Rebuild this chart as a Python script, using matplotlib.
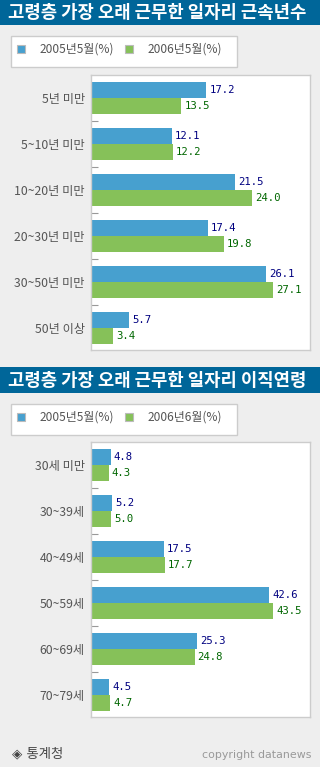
import numpy as np
import matplotlib
matplotlib.use("Agg")
import matplotlib.pyplot as plt
from matplotlib.patches import Rectangle

plt.rcParams['font.family'] = ['Noto Sans CJK KR', 'DejaVu Sans']

# data
title1 = "고령층 가장 오래 근무한 일자리 근속년수"
cats1 = ["5년 미만", "5~10년 미만", "10~20년 미만", "20~30년 미만", "30~50년 미만", "50년 이상"]
y2005_1 = [17.2, 12.1, 21.5, 17.4, 26.1, 5.7]
y2006_1 = [13.5, 12.2, 24.0, 19.8, 27.1, 3.4]
legend1 = ["2005년5월(%)", "2006년5월(%)"]

title2 = "고령층 가장 오래 근무한 일자리 이직연령"
cats2 = ["30세 미만", "30~39세", "40~49세", "50~59세", "60~69세", "70~79세"]
y2005_2 = [4.8, 5.2, 17.5, 42.6, 25.3, 4.5]
y2006_2 = [4.3, 5.0, 17.7, 43.5, 24.8, 4.7]
legend2 = ["2005년5월(%)", "2006년6월(%)"]

W, H = 320, 767
BLUE = "#47a0cf"
GREEN = "#86c159"
BAND = "#006699"
BG = "#eeeeee"

fig = plt.figure(figsize=(W / 100, H / 100), dpi=100, facecolor=BG)

# background axes in pixel coords for title bands, legends, footer
bg = fig.add_axes([0, 0, 1, 1], zorder=0)
bg.set_xlim(0, W)
bg.set_ylim(H, 0)
bg.axis("off")


def rect(x0, y0, x1, y1):
    return [x0 / W, 1 - y1 / H, (x1 - x0) / W, (y1 - y0) / H]


def header(y0, y1, title, labels):
    bg.add_patch(Rectangle((0, y0), W, y1 - y0, color=BAND, lw=0))
    bg.text(8, (y0 + y1) / 2 + 0.5, title, color="white", fontsize=12.8,
            fontweight="bold", va="center", ha="left")
    ly0 = y1 + 10
    bg.add_patch(Rectangle((10.5, ly0 + 0.5), 226, 31, facecolor="white",
                           edgecolor="#cccccc", lw=1))
    for k, (lab, col) in enumerate(zip(labels, [BLUE, GREEN])):
        sx = 17 + k * 108
        bg.add_patch(Rectangle((sx, ly0 + 10), 8, 8, facecolor=col,
                               edgecolor="#bbbbbb", lw=0.8))
        bg.text(sx + 23, ly0 + 14.5, lab, color="#555555", fontsize=8.6,
                va="center", ha="left")


def chart(rc, cats, a, b, xmax):
    ax = fig.add_axes(rc, zorder=2)
    ax.set_facecolor("white")
    n = len(cats)
    pos = np.arange(n)
    h = 16 / 46
    ax.barh(pos - h / 2, a, height=h, color=BLUE)
    ax.barh(pos + h / 2, b, height=h, color=GREEN)
    for i in range(n):
        ax.annotate("%.1f" % a[i], (a[i], pos[i] - h / 2), xytext=(2.2, 0),
                    textcoords="offset points", va="center", ha="left",
                    color="#000080", fontsize=7.7, family="DejaVu Sans Mono")
        ax.annotate("%.1f" % b[i], (b[i], pos[i] + h / 2), xytext=(2.2, 0),
                    textcoords="offset points", va="center", ha="left",
                    color="#006600", fontsize=7.7, family="DejaVu Sans Mono")
    ax.set_xlim(0, xmax)
    ax.set_ylim(-0.5 + 275 / 46, -0.5)
    ax.set_yticks(pos)
    ax.set_yticklabels(cats, color="#555555", fontsize=8.8)
    ax.tick_params(axis="y", which="major", length=0, pad=4)
    ax.set_yticks(pos[:-1] + 0.5, minor=True)
    ax.tick_params(axis="y", which="minor", direction="in", length=5,
                   color="#999999", width=0.8)
    ax.set_xticks([])
    for s in ax.spines.values():
        s.set_color("#cccccc")
        s.set_linewidth(1)
    return ax


header(0, 25, title1, legend1)
chart(rect(90.5, 75, 310, 350), cats1, y2005_1, y2006_1, 32.6)

header(367, 393, title2, legend2)
chart(rect(90.5, 442, 310, 717), cats2, y2005_2, y2006_2, 52.3)

bg.text(12, 754, "◈ 통계청", color="#444444", fontsize=9.6, va="center",
        ha="left", family=["DejaVu Sans", "Noto Sans CJK KR"])
bg.text(312, 755, "copyright datanews", color="#999999", fontsize=7.9,
        va="center", ha="right", family="DejaVu Sans")

fig.savefig("out.png", dpi=100, facecolor=BG)
